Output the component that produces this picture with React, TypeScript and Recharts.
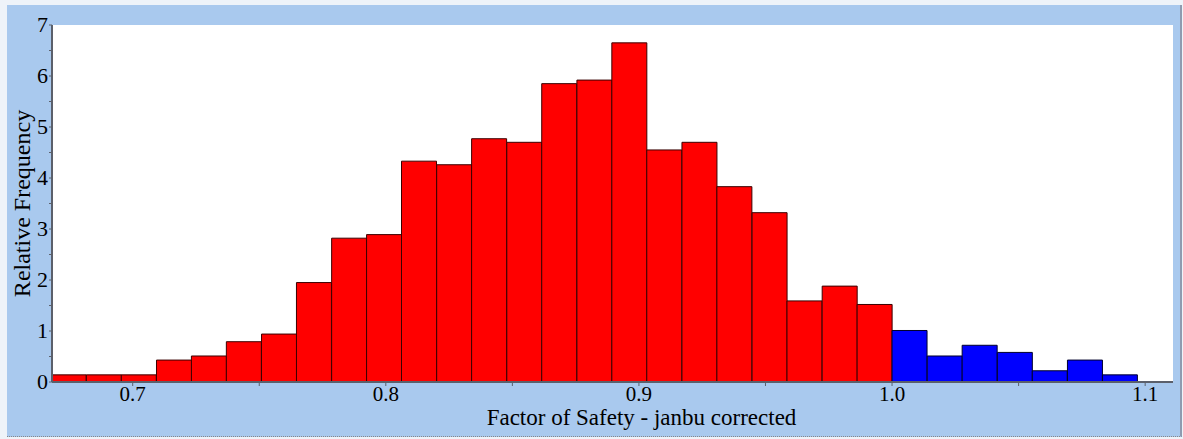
import React from 'react';
import { ComposedChart, Bar, Cell, XAxis, YAxis, CartesianGrid } from 'recharts';

// bin centres of the histogram (factor of safety)
const binCenters = [
  0.6747, 0.6886, 0.7024, 0.7163, 0.7301, 0.7439, 0.7578, 0.7716, 0.7855, 0.7993,
  0.8131, 0.827, 0.8408, 0.8547, 0.8685, 0.8824, 0.8962, 0.91, 0.9239, 0.9377,
  0.9516, 0.9654, 0.9793, 0.9931, 1.0069, 1.0208, 1.0346, 1.0485, 1.0623, 1.0762,
  1.09,
];

// relative frequency per bin
const relFreq = [
  0.14, 0.14, 0.14, 0.43, 0.51, 0.79, 0.94, 1.95, 2.82, 2.89,
  4.33, 4.26, 4.77, 4.7, 5.85, 5.92, 6.65, 4.55, 4.7, 3.83,
  3.32, 1.59, 1.88, 1.52, 1.01, 0.51, 0.72, 0.58, 0.22, 0.43,
  0.14,
];

const xTicks = [0.7, 0.75, 0.8, 0.85, 0.9, 0.95, 1.0, 1.05, 1.1];
const yTicks = [0, 0.5, 1, 1.5, 2, 2.5, 3, 3.5, 4, 4.5, 5, 5.5, 6, 6.5, 7];

const data = binCenters.map((x, i) => ({ x, freq: relFreq[i] }));

const FONT = '"Liberation Serif", "Times New Roman", serif';
const AXIS = '#5b606b';

const isMajor = (v: number, step: number) => Math.abs(v / step - Math.round(v / step)) < 1e-6;

function XTick(props: any) {
  const { x, y, payload } = props;
  if (!isMajor(payload.value, 0.1)) return null;
  return (
    <text x={x} y={y} dy={13} textAnchor="middle" fontFamily={FONT} fontSize={21} fill="#000">
      {payload.value.toFixed(1)}
    </text>
  );
}

function YTick(props: any) {
  const { x, y, payload } = props;
  if (!isMajor(payload.value, 1)) return null;
  return (
    <text x={x + 1} y={y} dy={7} textAnchor="end" fontFamily={FONT} fontSize={22} fill="#000">
      {payload.value}
    </text>
  );
}

export default function App() {
  return (
    <div style={{ position: 'absolute', left: 0, top: 0, width: 1183, height: 439, background: '#eef3f9' }}>
      <div
        style={{
          position: 'absolute',
          left: 7,
          top: 5,
          width: 1173,
          height: 431,
          background: '#a9c9ee',
          borderRight: '2px solid #8f9bb0',
          borderBottom: '1px dotted #888',
        }}
      />
      <ComposedChart
        width={1183}
        height={439}
        data={data}
        margin={{ top: 25, right: 10, bottom: 0, left: 0 }}
        barCategoryGap={0}
        barGap={0}
        style={{ position: 'absolute', left: 0, top: 0 }}
      >
        <CartesianGrid fill="#ffffff" horizontal={false} vertical={false} />
        <XAxis
          dataKey="x"
          type="number"
          domain={[0.66812, 1.111]}
          allowDataOverflow
          ticks={xTicks}
          interval={0}
          height={57}
          axisLine={{ stroke: AXIS, strokeWidth: 2 }}
          tickLine={{ stroke: AXIS }}
          tickSize={4}
          tick={<XTick />}
          label={{
            value: 'Factor of Safety - janbu corrected',
            position: 'insideBottom',
            offset: 14,
            dx: 29,
            fontFamily: FONT,
            fontSize: 23,
            fill: '#000',
          }}
        />
        <YAxis
          type="number"
          domain={[0, 7]}
          ticks={yTicks}
          interval={0}
          width={52}
          axisLine={{ stroke: AXIS, strokeWidth: 2 }}
          tickLine={{ stroke: AXIS }}
          tickSize={3}
          tick={<YTick />}
          label={{
            content: ({ viewBox }: any) => {
              const cx = viewBox.x + 30;
              const cy = viewBox.y + viewBox.height / 2;
              return (
                <text
                  x={cx}
                  y={cy}
                  transform={`rotate(-90, ${cx}, ${cy})`}
                  textAnchor="middle"
                  fontFamily={FONT}
                  fontSize={24}
                  fill="#000"
                >
                  Relative Frequency
                </text>
              );
            },
          }}
        />
        <Bar dataKey="freq" stroke="#2a0a0a" strokeWidth={1} isAnimationActive={false}>
          {data.map((d, i) => (
            <Cell key={i} fill={d.x < 1 ? '#ff0000' : '#0000ff'} stroke={d.x < 1 ? '#3a0000' : '#00002a'} />
          ))}
        </Bar>
      </ComposedChart>
    </div>
  );
}
